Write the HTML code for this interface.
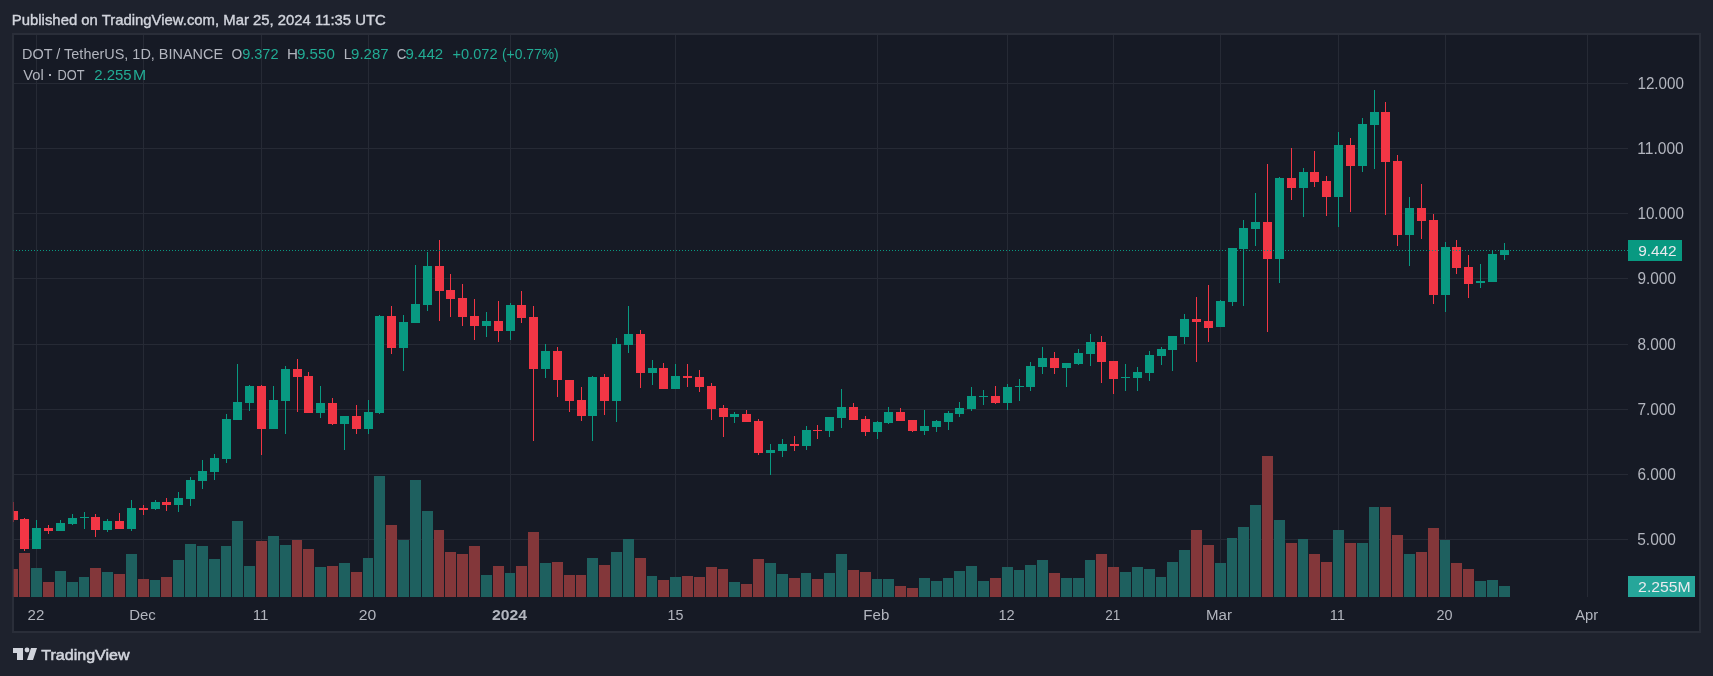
<!DOCTYPE html>
<html><head><meta charset="utf-8"><style>
html,body{margin:0;padding:0;width:1713px;height:676px;overflow:hidden;background:#1e222d;}
</style></head><body>
<svg width="1713" height="676" viewBox="0 0 1713 676" style="position:absolute;left:0;top:0;will-change:transform"><rect x="0" y="0" width="1713" height="676" fill="#1e222d"/><rect x="12" y="33" width="1689" height="600" fill="#2a2e39"/><rect x="14" y="35" width="1685" height="596" fill="#161a25"/><defs><clipPath id="pane"><rect x="13" y="35" width="1615" height="562"/></clipPath></defs><g clip-path="url(#pane)" shape-rendering="crispEdges"><rect x="36" y="35" width="1" height="562" fill="#262a35"/><rect x="143" y="35" width="1" height="562" fill="#262a35"/><rect x="261" y="35" width="1" height="562" fill="#262a35"/><rect x="368" y="35" width="1" height="562" fill="#262a35"/><rect x="510" y="35" width="1" height="562" fill="#262a35"/><rect x="675" y="35" width="1" height="562" fill="#262a35"/><rect x="877" y="35" width="1" height="562" fill="#262a35"/><rect x="1007" y="35" width="1" height="562" fill="#262a35"/><rect x="1113" y="35" width="1" height="562" fill="#262a35"/><rect x="1220" y="35" width="1" height="562" fill="#262a35"/><rect x="1338" y="35" width="1" height="562" fill="#262a35"/><rect x="1445" y="35" width="1" height="562" fill="#262a35"/><rect x="1587" y="35" width="1" height="562" fill="#262a35"/><rect x="14" y="83" width="1614" height="1" fill="#262a35"/><rect x="14" y="148" width="1614" height="1" fill="#262a35"/><rect x="14" y="213" width="1614" height="1" fill="#262a35"/><rect x="14" y="278" width="1614" height="1" fill="#262a35"/><rect x="14" y="344" width="1614" height="1" fill="#262a35"/><rect x="14" y="409" width="1614" height="1" fill="#262a35"/><rect x="14" y="474" width="1614" height="1" fill="#262a35"/><rect x="14" y="539" width="1614" height="1" fill="#262a35"/><rect x="8" y="569" width="10" height="28" fill="#83373a"/><rect x="19" y="553" width="11" height="44" fill="#83373a"/><rect x="31" y="568" width="11" height="29" fill="#1e605f"/><rect x="43" y="582" width="11" height="15" fill="#83373a"/><rect x="55" y="571" width="11" height="26" fill="#1e605f"/><rect x="67" y="582" width="11" height="15" fill="#1e605f"/><rect x="79" y="577" width="10" height="20" fill="#1e605f"/><rect x="90" y="568" width="11" height="29" fill="#83373a"/><rect x="102" y="572" width="11" height="25" fill="#1e605f"/><rect x="114" y="574" width="11" height="23" fill="#83373a"/><rect x="126" y="554" width="11" height="43" fill="#1e605f"/><rect x="138" y="579" width="11" height="18" fill="#83373a"/><rect x="150" y="580" width="10" height="17" fill="#1e605f"/><rect x="161" y="577" width="11" height="20" fill="#83373a"/><rect x="173" y="560" width="11" height="37" fill="#1e605f"/><rect x="185" y="544" width="11" height="53" fill="#1e605f"/><rect x="197" y="546" width="11" height="51" fill="#1e605f"/><rect x="209" y="559" width="11" height="38" fill="#1e605f"/><rect x="221" y="546" width="10" height="51" fill="#1e605f"/><rect x="232" y="521" width="11" height="76" fill="#1e605f"/><rect x="244" y="566" width="11" height="31" fill="#1e605f"/><rect x="256" y="541" width="11" height="56" fill="#83373a"/><rect x="268" y="536" width="11" height="61" fill="#1e605f"/><rect x="280" y="545" width="11" height="52" fill="#1e605f"/><rect x="292" y="540" width="10" height="57" fill="#83373a"/><rect x="303" y="549" width="11" height="48" fill="#83373a"/><rect x="315" y="567" width="11" height="30" fill="#1e605f"/><rect x="327" y="566" width="11" height="31" fill="#83373a"/><rect x="339" y="563" width="11" height="34" fill="#1e605f"/><rect x="351" y="572" width="11" height="25" fill="#83373a"/><rect x="363" y="558" width="10" height="39" fill="#1e605f"/><rect x="374" y="476" width="11" height="121" fill="#1e605f"/><rect x="386" y="525" width="11" height="72" fill="#83373a"/><rect x="398" y="540" width="11" height="57" fill="#1e605f"/><rect x="410" y="480" width="11" height="117" fill="#1e605f"/><rect x="422" y="511" width="11" height="86" fill="#1e605f"/><rect x="434" y="530" width="10" height="67" fill="#83373a"/><rect x="445" y="552" width="11" height="45" fill="#83373a"/><rect x="457" y="554" width="11" height="43" fill="#83373a"/><rect x="469" y="546" width="11" height="51" fill="#83373a"/><rect x="481" y="575" width="11" height="22" fill="#1e605f"/><rect x="493" y="566" width="11" height="31" fill="#83373a"/><rect x="505" y="573" width="10" height="24" fill="#1e605f"/><rect x="516" y="566" width="11" height="31" fill="#83373a"/><rect x="528" y="532" width="11" height="65" fill="#83373a"/><rect x="540" y="563" width="11" height="34" fill="#1e605f"/><rect x="552" y="562" width="11" height="35" fill="#83373a"/><rect x="564" y="575" width="11" height="22" fill="#83373a"/><rect x="576" y="575" width="10" height="22" fill="#83373a"/><rect x="587" y="558" width="11" height="39" fill="#1e605f"/><rect x="599" y="565" width="11" height="32" fill="#83373a"/><rect x="611" y="552" width="11" height="45" fill="#1e605f"/><rect x="623" y="539" width="11" height="58" fill="#1e605f"/><rect x="635" y="558" width="11" height="39" fill="#83373a"/><rect x="647" y="576" width="10" height="21" fill="#1e605f"/><rect x="658" y="580" width="11" height="17" fill="#83373a"/><rect x="670" y="577" width="11" height="20" fill="#1e605f"/><rect x="682" y="576" width="11" height="21" fill="#83373a"/><rect x="694" y="577" width="11" height="20" fill="#83373a"/><rect x="706" y="567" width="11" height="30" fill="#83373a"/><rect x="718" y="569" width="10" height="28" fill="#83373a"/><rect x="729" y="582" width="11" height="15" fill="#1e605f"/><rect x="741" y="584" width="11" height="13" fill="#83373a"/><rect x="753" y="559" width="11" height="38" fill="#83373a"/><rect x="765" y="563" width="11" height="34" fill="#1e605f"/><rect x="777" y="574" width="11" height="23" fill="#1e605f"/><rect x="789" y="578" width="11" height="19" fill="#83373a"/><rect x="801" y="573" width="10" height="24" fill="#1e605f"/><rect x="812" y="579" width="11" height="18" fill="#83373a"/><rect x="824" y="573" width="11" height="24" fill="#1e605f"/><rect x="836" y="554" width="11" height="43" fill="#1e605f"/><rect x="848" y="570" width="11" height="27" fill="#83373a"/><rect x="860" y="572" width="11" height="25" fill="#83373a"/><rect x="872" y="579" width="10" height="18" fill="#1e605f"/><rect x="883" y="579" width="11" height="18" fill="#1e605f"/><rect x="895" y="586" width="11" height="11" fill="#83373a"/><rect x="907" y="588" width="11" height="9" fill="#83373a"/><rect x="919" y="578" width="11" height="19" fill="#1e605f"/><rect x="931" y="581" width="11" height="16" fill="#1e605f"/><rect x="943" y="578" width="10" height="19" fill="#1e605f"/><rect x="954" y="571" width="11" height="26" fill="#1e605f"/><rect x="966" y="566" width="11" height="31" fill="#1e605f"/><rect x="978" y="581" width="11" height="16" fill="#1e605f"/><rect x="990" y="578" width="11" height="19" fill="#83373a"/><rect x="1002" y="567" width="11" height="30" fill="#1e605f"/><rect x="1014" y="570" width="10" height="27" fill="#1e605f"/><rect x="1025" y="565" width="11" height="32" fill="#1e605f"/><rect x="1037" y="560" width="11" height="37" fill="#1e605f"/><rect x="1049" y="573" width="11" height="24" fill="#83373a"/><rect x="1061" y="578" width="11" height="19" fill="#1e605f"/><rect x="1073" y="578" width="11" height="19" fill="#1e605f"/><rect x="1085" y="560" width="10" height="37" fill="#1e605f"/><rect x="1096" y="554" width="11" height="43" fill="#83373a"/><rect x="1108" y="567" width="11" height="30" fill="#83373a"/><rect x="1120" y="572" width="11" height="25" fill="#1e605f"/><rect x="1132" y="567" width="11" height="30" fill="#1e605f"/><rect x="1144" y="569" width="11" height="28" fill="#1e605f"/><rect x="1156" y="577" width="10" height="20" fill="#1e605f"/><rect x="1167" y="562" width="11" height="35" fill="#1e605f"/><rect x="1179" y="550" width="11" height="47" fill="#1e605f"/><rect x="1191" y="530" width="11" height="67" fill="#83373a"/><rect x="1203" y="545" width="11" height="52" fill="#83373a"/><rect x="1215" y="563" width="11" height="34" fill="#1e605f"/><rect x="1227" y="538" width="10" height="59" fill="#1e605f"/><rect x="1238" y="527" width="11" height="70" fill="#1e605f"/><rect x="1250" y="505" width="11" height="92" fill="#1e605f"/><rect x="1262" y="456" width="11" height="141" fill="#83373a"/><rect x="1274" y="520" width="11" height="77" fill="#1e605f"/><rect x="1286" y="543" width="11" height="54" fill="#83373a"/><rect x="1298" y="539" width="10" height="58" fill="#1e605f"/><rect x="1309" y="554" width="11" height="43" fill="#83373a"/><rect x="1321" y="562" width="11" height="35" fill="#83373a"/><rect x="1333" y="530" width="11" height="67" fill="#1e605f"/><rect x="1345" y="543" width="11" height="54" fill="#83373a"/><rect x="1357" y="543" width="11" height="54" fill="#1e605f"/><rect x="1369" y="507" width="10" height="90" fill="#1e605f"/><rect x="1380" y="507" width="11" height="90" fill="#83373a"/><rect x="1392" y="535" width="11" height="62" fill="#83373a"/><rect x="1404" y="554" width="11" height="43" fill="#1e605f"/><rect x="1416" y="552" width="11" height="45" fill="#83373a"/><rect x="1428" y="528" width="11" height="69" fill="#83373a"/><rect x="1440" y="540" width="10" height="57" fill="#1e605f"/><rect x="1451" y="563" width="11" height="34" fill="#83373a"/><rect x="1463" y="569" width="11" height="28" fill="#83373a"/><rect x="1475" y="581" width="11" height="16" fill="#1e605f"/><rect x="1487" y="580" width="11" height="17" fill="#1e605f"/><rect x="1499" y="586" width="11" height="11" fill="#1e605f"/><rect x="13" y="502" width="1" height="20" fill="#f23645"/><rect x="9" y="511" width="9" height="9" fill="#f23645"/><rect x="24" y="518" width="1" height="33" fill="#f23645"/><rect x="20" y="519" width="9" height="30" fill="#f23645"/><rect x="36" y="520" width="1" height="29" fill="#089981"/><rect x="32" y="528" width="9" height="21" fill="#089981"/><rect x="48" y="525" width="1" height="9" fill="#f23645"/><rect x="44" y="528" width="9" height="3" fill="#f23645"/><rect x="60" y="520" width="1" height="11" fill="#089981"/><rect x="56" y="523" width="9" height="8" fill="#089981"/><rect x="72" y="514" width="1" height="11" fill="#089981"/><rect x="68" y="518" width="9" height="6" fill="#089981"/><rect x="84" y="512" width="1" height="17" fill="#089981"/><rect x="80" y="517" width="9" height="1" fill="#089981"/><rect x="95" y="514" width="1" height="23" fill="#f23645"/><rect x="91" y="517" width="9" height="13" fill="#f23645"/><rect x="107" y="519" width="1" height="13" fill="#089981"/><rect x="103" y="521" width="9" height="9" fill="#089981"/><rect x="119" y="513" width="1" height="16" fill="#f23645"/><rect x="115" y="521" width="9" height="8" fill="#f23645"/><rect x="131" y="500" width="1" height="31" fill="#089981"/><rect x="127" y="508" width="9" height="21" fill="#089981"/><rect x="143" y="505" width="1" height="10" fill="#f23645"/><rect x="139" y="508" width="9" height="2" fill="#f23645"/><rect x="155" y="500" width="1" height="10" fill="#089981"/><rect x="151" y="502" width="9" height="7" fill="#089981"/><rect x="166" y="498" width="1" height="13" fill="#f23645"/><rect x="162" y="502" width="9" height="3" fill="#f23645"/><rect x="178" y="492" width="1" height="20" fill="#089981"/><rect x="174" y="498" width="9" height="7" fill="#089981"/><rect x="190" y="477" width="1" height="29" fill="#089981"/><rect x="186" y="480" width="9" height="19" fill="#089981"/><rect x="202" y="460" width="1" height="29" fill="#089981"/><rect x="198" y="471" width="9" height="10" fill="#089981"/><rect x="214" y="454" width="1" height="26" fill="#089981"/><rect x="210" y="458" width="9" height="14" fill="#089981"/><rect x="226" y="414" width="1" height="49" fill="#089981"/><rect x="222" y="419" width="9" height="40" fill="#089981"/><rect x="237" y="364" width="1" height="56" fill="#089981"/><rect x="233" y="402" width="9" height="18" fill="#089981"/><rect x="249" y="385" width="1" height="26" fill="#089981"/><rect x="245" y="386" width="9" height="17" fill="#089981"/><rect x="261" y="385" width="1" height="70" fill="#f23645"/><rect x="257" y="386" width="9" height="43" fill="#f23645"/><rect x="273" y="386" width="1" height="43" fill="#089981"/><rect x="269" y="400" width="9" height="29" fill="#089981"/><rect x="285" y="366" width="1" height="68" fill="#089981"/><rect x="281" y="369" width="9" height="32" fill="#089981"/><rect x="297" y="359" width="1" height="53" fill="#f23645"/><rect x="293" y="369" width="9" height="8" fill="#f23645"/><rect x="308" y="372" width="1" height="41" fill="#f23645"/><rect x="304" y="376" width="9" height="37" fill="#f23645"/><rect x="320" y="386" width="1" height="32" fill="#089981"/><rect x="316" y="403" width="9" height="10" fill="#089981"/><rect x="332" y="398" width="1" height="27" fill="#f23645"/><rect x="328" y="403" width="9" height="21" fill="#f23645"/><rect x="344" y="416" width="1" height="34" fill="#089981"/><rect x="340" y="416" width="9" height="8" fill="#089981"/><rect x="356" y="405" width="1" height="29" fill="#f23645"/><rect x="352" y="416" width="9" height="13" fill="#f23645"/><rect x="368" y="400" width="1" height="34" fill="#089981"/><rect x="364" y="412" width="9" height="17" fill="#089981"/><rect x="379" y="315" width="1" height="99" fill="#089981"/><rect x="375" y="316" width="9" height="97" fill="#089981"/><rect x="391" y="306" width="1" height="48" fill="#f23645"/><rect x="387" y="316" width="9" height="32" fill="#f23645"/><rect x="403" y="315" width="1" height="56" fill="#089981"/><rect x="399" y="322" width="9" height="26" fill="#089981"/><rect x="415" y="265" width="1" height="58" fill="#089981"/><rect x="411" y="304" width="9" height="19" fill="#089981"/><rect x="427" y="252" width="1" height="59" fill="#089981"/><rect x="423" y="266" width="9" height="39" fill="#089981"/><rect x="439" y="240" width="1" height="81" fill="#f23645"/><rect x="435" y="266" width="9" height="25" fill="#f23645"/><rect x="450" y="274" width="1" height="43" fill="#f23645"/><rect x="446" y="290" width="9" height="9" fill="#f23645"/><rect x="462" y="284" width="1" height="42" fill="#f23645"/><rect x="458" y="298" width="9" height="19" fill="#f23645"/><rect x="474" y="299" width="1" height="41" fill="#f23645"/><rect x="470" y="316" width="9" height="10" fill="#f23645"/><rect x="486" y="312" width="1" height="25" fill="#089981"/><rect x="482" y="321" width="9" height="5" fill="#089981"/><rect x="498" y="301" width="1" height="41" fill="#f23645"/><rect x="494" y="321" width="9" height="10" fill="#f23645"/><rect x="510" y="303" width="1" height="37" fill="#089981"/><rect x="506" y="305" width="9" height="26" fill="#089981"/><rect x="521" y="291" width="1" height="32" fill="#f23645"/><rect x="517" y="305" width="9" height="13" fill="#f23645"/><rect x="533" y="306" width="1" height="135" fill="#f23645"/><rect x="529" y="317" width="9" height="52" fill="#f23645"/><rect x="545" y="344" width="1" height="34" fill="#089981"/><rect x="541" y="351" width="9" height="18" fill="#089981"/><rect x="557" y="347" width="1" height="50" fill="#f23645"/><rect x="553" y="351" width="9" height="29" fill="#f23645"/><rect x="569" y="380" width="1" height="32" fill="#f23645"/><rect x="565" y="380" width="9" height="21" fill="#f23645"/><rect x="581" y="387" width="1" height="34" fill="#f23645"/><rect x="577" y="400" width="9" height="16" fill="#f23645"/><rect x="592" y="376" width="1" height="65" fill="#089981"/><rect x="588" y="377" width="9" height="39" fill="#089981"/><rect x="604" y="374" width="1" height="41" fill="#f23645"/><rect x="600" y="377" width="9" height="24" fill="#f23645"/><rect x="616" y="338" width="1" height="84" fill="#089981"/><rect x="612" y="344" width="9" height="57" fill="#089981"/><rect x="628" y="306" width="1" height="47" fill="#089981"/><rect x="624" y="334" width="9" height="11" fill="#089981"/><rect x="640" y="330" width="1" height="58" fill="#f23645"/><rect x="636" y="334" width="9" height="39" fill="#f23645"/><rect x="652" y="360" width="1" height="25" fill="#089981"/><rect x="648" y="368" width="9" height="5" fill="#089981"/><rect x="663" y="363" width="1" height="26" fill="#f23645"/><rect x="659" y="368" width="9" height="21" fill="#f23645"/><rect x="675" y="364" width="1" height="25" fill="#089981"/><rect x="671" y="376" width="9" height="13" fill="#089981"/><rect x="687" y="364" width="1" height="23" fill="#f23645"/><rect x="683" y="376" width="9" height="2" fill="#f23645"/><rect x="699" y="370" width="1" height="22" fill="#f23645"/><rect x="695" y="377" width="9" height="10" fill="#f23645"/><rect x="711" y="383" width="1" height="37" fill="#f23645"/><rect x="707" y="386" width="9" height="23" fill="#f23645"/><rect x="723" y="405" width="1" height="32" fill="#f23645"/><rect x="719" y="408" width="9" height="9" fill="#f23645"/><rect x="734" y="412" width="1" height="11" fill="#089981"/><rect x="730" y="414" width="9" height="3" fill="#089981"/><rect x="746" y="410" width="1" height="12" fill="#f23645"/><rect x="742" y="414" width="9" height="8" fill="#f23645"/><rect x="758" y="419" width="1" height="36" fill="#f23645"/><rect x="754" y="421" width="9" height="32" fill="#f23645"/><rect x="770" y="444" width="1" height="31" fill="#089981"/><rect x="766" y="450" width="9" height="3" fill="#089981"/><rect x="782" y="439" width="1" height="18" fill="#089981"/><rect x="778" y="444" width="9" height="7" fill="#089981"/><rect x="794" y="436" width="1" height="15" fill="#f23645"/><rect x="790" y="444" width="9" height="2" fill="#f23645"/><rect x="806" y="426" width="1" height="24" fill="#089981"/><rect x="802" y="430" width="9" height="16" fill="#089981"/><rect x="817" y="425" width="1" height="14" fill="#f23645"/><rect x="813" y="430" width="9" height="1" fill="#f23645"/><rect x="829" y="417" width="1" height="20" fill="#089981"/><rect x="825" y="417" width="9" height="14" fill="#089981"/><rect x="841" y="389" width="1" height="39" fill="#089981"/><rect x="837" y="407" width="9" height="11" fill="#089981"/><rect x="853" y="403" width="1" height="17" fill="#f23645"/><rect x="849" y="407" width="9" height="13" fill="#f23645"/><rect x="865" y="416" width="1" height="20" fill="#f23645"/><rect x="861" y="419" width="9" height="13" fill="#f23645"/><rect x="877" y="421" width="1" height="18" fill="#089981"/><rect x="873" y="422" width="9" height="10" fill="#089981"/><rect x="888" y="407" width="1" height="17" fill="#089981"/><rect x="884" y="412" width="9" height="11" fill="#089981"/><rect x="900" y="408" width="1" height="13" fill="#f23645"/><rect x="896" y="412" width="9" height="9" fill="#f23645"/><rect x="912" y="420" width="1" height="12" fill="#f23645"/><rect x="908" y="420" width="9" height="11" fill="#f23645"/><rect x="924" y="410" width="1" height="25" fill="#089981"/><rect x="920" y="426" width="9" height="5" fill="#089981"/><rect x="936" y="420" width="1" height="12" fill="#089981"/><rect x="932" y="421" width="9" height="6" fill="#089981"/><rect x="948" y="411" width="1" height="19" fill="#089981"/><rect x="944" y="413" width="9" height="9" fill="#089981"/><rect x="959" y="402" width="1" height="15" fill="#089981"/><rect x="955" y="408" width="9" height="6" fill="#089981"/><rect x="971" y="387" width="1" height="24" fill="#089981"/><rect x="967" y="396" width="9" height="13" fill="#089981"/><rect x="983" y="390" width="1" height="15" fill="#089981"/><rect x="979" y="396" width="9" height="1" fill="#089981"/><rect x="995" y="386" width="1" height="18" fill="#f23645"/><rect x="991" y="396" width="9" height="7" fill="#f23645"/><rect x="1007" y="384" width="1" height="26" fill="#089981"/><rect x="1003" y="387" width="9" height="16" fill="#089981"/><rect x="1019" y="379" width="1" height="22" fill="#089981"/><rect x="1015" y="386" width="9" height="1" fill="#089981"/><rect x="1030" y="362" width="1" height="29" fill="#089981"/><rect x="1026" y="366" width="9" height="21" fill="#089981"/><rect x="1042" y="347" width="1" height="27" fill="#089981"/><rect x="1038" y="358" width="9" height="9" fill="#089981"/><rect x="1054" y="352" width="1" height="22" fill="#f23645"/><rect x="1050" y="358" width="9" height="10" fill="#f23645"/><rect x="1066" y="363" width="1" height="24" fill="#089981"/><rect x="1062" y="363" width="9" height="5" fill="#089981"/><rect x="1078" y="349" width="1" height="16" fill="#089981"/><rect x="1074" y="353" width="9" height="11" fill="#089981"/><rect x="1090" y="334" width="1" height="32" fill="#089981"/><rect x="1086" y="342" width="9" height="12" fill="#089981"/><rect x="1101" y="336" width="1" height="47" fill="#f23645"/><rect x="1097" y="342" width="9" height="20" fill="#f23645"/><rect x="1113" y="361" width="1" height="33" fill="#f23645"/><rect x="1109" y="361" width="9" height="18" fill="#f23645"/><rect x="1125" y="364" width="1" height="27" fill="#089981"/><rect x="1121" y="377" width="9" height="1" fill="#089981"/><rect x="1137" y="367" width="1" height="24" fill="#089981"/><rect x="1133" y="372" width="9" height="6" fill="#089981"/><rect x="1149" y="351" width="1" height="30" fill="#089981"/><rect x="1145" y="355" width="9" height="18" fill="#089981"/><rect x="1161" y="347" width="1" height="18" fill="#089981"/><rect x="1157" y="349" width="9" height="7" fill="#089981"/><rect x="1172" y="336" width="1" height="35" fill="#089981"/><rect x="1168" y="336" width="9" height="14" fill="#089981"/><rect x="1184" y="314" width="1" height="30" fill="#089981"/><rect x="1180" y="319" width="9" height="18" fill="#089981"/><rect x="1196" y="297" width="1" height="65" fill="#f23645"/><rect x="1192" y="319" width="9" height="3" fill="#f23645"/><rect x="1208" y="285" width="1" height="57" fill="#f23645"/><rect x="1204" y="321" width="9" height="7" fill="#f23645"/><rect x="1220" y="300" width="1" height="27" fill="#089981"/><rect x="1216" y="301" width="9" height="26" fill="#089981"/><rect x="1232" y="248" width="1" height="58" fill="#089981"/><rect x="1228" y="248" width="9" height="54" fill="#089981"/><rect x="1243" y="220" width="1" height="86" fill="#089981"/><rect x="1239" y="228" width="9" height="21" fill="#089981"/><rect x="1255" y="193" width="1" height="53" fill="#089981"/><rect x="1251" y="222" width="9" height="7" fill="#089981"/><rect x="1267" y="164" width="1" height="168" fill="#f23645"/><rect x="1263" y="222" width="9" height="37" fill="#f23645"/><rect x="1279" y="177" width="1" height="106" fill="#089981"/><rect x="1275" y="178" width="9" height="81" fill="#089981"/><rect x="1291" y="148" width="1" height="52" fill="#f23645"/><rect x="1287" y="178" width="9" height="10" fill="#f23645"/><rect x="1303" y="168" width="1" height="49" fill="#089981"/><rect x="1299" y="172" width="9" height="16" fill="#089981"/><rect x="1314" y="151" width="1" height="36" fill="#f23645"/><rect x="1310" y="172" width="9" height="10" fill="#f23645"/><rect x="1326" y="176" width="1" height="40" fill="#f23645"/><rect x="1322" y="181" width="9" height="16" fill="#f23645"/><rect x="1338" y="132" width="1" height="95" fill="#089981"/><rect x="1334" y="145" width="9" height="52" fill="#089981"/><rect x="1350" y="138" width="1" height="74" fill="#f23645"/><rect x="1346" y="145" width="9" height="21" fill="#f23645"/><rect x="1362" y="118" width="1" height="54" fill="#089981"/><rect x="1358" y="124" width="9" height="42" fill="#089981"/><rect x="1374" y="90" width="1" height="79" fill="#089981"/><rect x="1370" y="112" width="9" height="13" fill="#089981"/><rect x="1385" y="102" width="1" height="113" fill="#f23645"/><rect x="1381" y="112" width="9" height="50" fill="#f23645"/><rect x="1397" y="155" width="1" height="91" fill="#f23645"/><rect x="1393" y="161" width="9" height="74" fill="#f23645"/><rect x="1409" y="197" width="1" height="69" fill="#089981"/><rect x="1405" y="208" width="9" height="27" fill="#089981"/><rect x="1421" y="184" width="1" height="55" fill="#f23645"/><rect x="1417" y="208" width="9" height="13" fill="#f23645"/><rect x="1433" y="214" width="1" height="90" fill="#f23645"/><rect x="1429" y="220" width="9" height="75" fill="#f23645"/><rect x="1445" y="242" width="1" height="70" fill="#089981"/><rect x="1441" y="247" width="9" height="48" fill="#089981"/><rect x="1456" y="240" width="1" height="34" fill="#f23645"/><rect x="1452" y="247" width="9" height="21" fill="#f23645"/><rect x="1468" y="255" width="1" height="43" fill="#f23645"/><rect x="1464" y="267" width="9" height="17" fill="#f23645"/><rect x="1480" y="264" width="1" height="24" fill="#089981"/><rect x="1476" y="281" width="9" height="2" fill="#089981"/><rect x="1492" y="250" width="1" height="32" fill="#089981"/><rect x="1488" y="254" width="9" height="28" fill="#089981"/><rect x="1504" y="243" width="1" height="17" fill="#089981"/><rect x="1500" y="250" width="9" height="5" fill="#089981"/><line x1="13" y1="250.5" x2="1628" y2="250.5" stroke="#089981" stroke-width="1" stroke-dasharray="1 2"/></g><rect x="13" y="35" width="1" height="562" fill="#2a2e39" opacity="0.6"/><rect x="1628" y="240" width="54" height="21" fill="#089981"/><rect x="1628" y="576" width="67" height="21" fill="#26a69a"/><text x="11.85" y="24.7" font-family='"Liberation Sans", sans-serif' font-size="15" font-weight="normal" fill="#d1d4dc" textLength="374.01" lengthAdjust="spacingAndGlyphs" xml:space="preserve" stroke="#d1d4dc" stroke-width="0.4">Published on TradingView.com, Mar 25, 2024 11:35 UTC</text><text x="22.12" y="59.1" font-family='"Liberation Sans", sans-serif' font-size="15.5" font-weight="normal" fill="#b2b5be" textLength="200.95" lengthAdjust="spacingAndGlyphs" xml:space="preserve" >DOT / TetherUS, 1D, BINANCE</text><text x="231.56" y="59.1" font-family='"Liberation Sans", sans-serif' font-size="15.5" font-weight="normal" fill="#b2b5be" textLength="10.73" lengthAdjust="spacingAndGlyphs" xml:space="preserve" >O</text><text x="242.16" y="59.1" font-family='"Liberation Sans", sans-serif' font-size="15.5" font-weight="normal" fill="#22ab94" textLength="36.33" lengthAdjust="spacingAndGlyphs" xml:space="preserve" >9.372</text><text x="286.96" y="59.1" font-family='"Liberation Sans", sans-serif' font-size="15.5" font-weight="normal" fill="#b2b5be" textLength="10.94" lengthAdjust="spacingAndGlyphs" xml:space="preserve" >H</text><text x="296.95" y="59.1" font-family='"Liberation Sans", sans-serif' font-size="15.5" font-weight="normal" fill="#22ab94" textLength="37.89" lengthAdjust="spacingAndGlyphs" xml:space="preserve" >9.550</text><text x="343.64" y="59.1" font-family='"Liberation Sans", sans-serif' font-size="15.5" font-weight="normal" fill="#b2b5be" textLength="7.98" lengthAdjust="spacingAndGlyphs" xml:space="preserve" >L</text><text x="351.11" y="59.1" font-family='"Liberation Sans", sans-serif' font-size="15.5" font-weight="normal" fill="#22ab94" textLength="37.51" lengthAdjust="spacingAndGlyphs" xml:space="preserve" >9.287</text><text x="396.84" y="59.1" font-family='"Liberation Sans", sans-serif' font-size="15.5" font-weight="normal" fill="#b2b5be" textLength="9.64" lengthAdjust="spacingAndGlyphs" xml:space="preserve" >C</text><text x="405.50" y="59.1" font-family='"Liberation Sans", sans-serif' font-size="15.5" font-weight="normal" fill="#22ab94" textLength="37.64" lengthAdjust="spacingAndGlyphs" xml:space="preserve" >9.442</text><text x="452.45" y="59.1" font-family='"Liberation Sans", sans-serif' font-size="15.5" font-weight="normal" fill="#22ab94" textLength="45.07" lengthAdjust="spacingAndGlyphs" xml:space="preserve" >+0.072</text><text x="501.96" y="59.1" font-family='"Liberation Sans", sans-serif' font-size="15.5" font-weight="normal" fill="#22ab94" textLength="56.79" lengthAdjust="spacingAndGlyphs" xml:space="preserve" >(+0.77%)</text><text x="23.19" y="79.7" font-family='"Liberation Sans", sans-serif' font-size="15.5" font-weight="normal" fill="#b2b5be" textLength="20.49" lengthAdjust="spacingAndGlyphs" xml:space="preserve" >Vol</text><text x="57.45" y="79.7" font-family='"Liberation Sans", sans-serif' font-size="15.5" font-weight="normal" fill="#b2b5be" textLength="27.01" lengthAdjust="spacingAndGlyphs" xml:space="preserve" >DOT</text><text x="94.16" y="79.7" font-family='"Liberation Sans", sans-serif' font-size="15.5" font-weight="normal" fill="#22ab94" textLength="37.47" lengthAdjust="spacingAndGlyphs" xml:space="preserve" >2.255</text><text x="132.96" y="79.7" font-family='"Liberation Sans", sans-serif' font-size="15.5" font-weight="normal" fill="#22ab94" textLength="13.16" lengthAdjust="spacingAndGlyphs" xml:space="preserve" >M</text><text x="1637.44" y="89" font-family='"Liberation Sans", sans-serif' font-size="15.6" font-weight="normal" fill="#b2b5be" textLength="46.51" lengthAdjust="spacingAndGlyphs" xml:space="preserve" >12.000</text><text x="1637.24" y="154" font-family='"Liberation Sans", sans-serif' font-size="15.6" font-weight="normal" fill="#b2b5be" textLength="46.54" lengthAdjust="spacingAndGlyphs" xml:space="preserve" >11.000</text><text x="1637.44" y="219" font-family='"Liberation Sans", sans-serif' font-size="15.6" font-weight="normal" fill="#b2b5be" textLength="46.51" lengthAdjust="spacingAndGlyphs" xml:space="preserve" >10.000</text><text x="1637.44" y="284" font-family='"Liberation Sans", sans-serif' font-size="15.6" font-weight="normal" fill="#b2b5be" textLength="38.51" lengthAdjust="spacingAndGlyphs" xml:space="preserve" >9.000</text><text x="1637.53" y="350" font-family='"Liberation Sans", sans-serif' font-size="15.6" font-weight="normal" fill="#b2b5be" textLength="38.39" lengthAdjust="spacingAndGlyphs" xml:space="preserve" >8.000</text><text x="1637.41" y="415" font-family='"Liberation Sans", sans-serif' font-size="15.6" font-weight="normal" fill="#b2b5be" textLength="38.49" lengthAdjust="spacingAndGlyphs" xml:space="preserve" >7.000</text><text x="1637.38" y="480" font-family='"Liberation Sans", sans-serif' font-size="15.6" font-weight="normal" fill="#b2b5be" textLength="38.51" lengthAdjust="spacingAndGlyphs" xml:space="preserve" >6.000</text><text x="1637.23" y="545" font-family='"Liberation Sans", sans-serif' font-size="15.6" font-weight="normal" fill="#b2b5be" textLength="38.76" lengthAdjust="spacingAndGlyphs" xml:space="preserve" >5.000</text><text x="1638.13" y="256" font-family='"Liberation Sans", sans-serif' font-size="15.4" font-weight="normal" fill="#e8eaee" textLength="38.53" lengthAdjust="spacingAndGlyphs" xml:space="preserve" >9.442</text><text x="1638.12" y="592" font-family='"Liberation Sans", sans-serif' font-size="15.4" font-weight="normal" fill="#e8eaee" textLength="52.65" lengthAdjust="spacingAndGlyphs" xml:space="preserve" >2.255M</text><text x="27.61" y="620" font-family='"Liberation Sans", sans-serif' font-size="15.3" font-weight="normal" fill="#b2b5be" textLength="16.72" lengthAdjust="spacingAndGlyphs" xml:space="preserve" >22</text><text x="129.21" y="620" font-family='"Liberation Sans", sans-serif' font-size="15.3" font-weight="normal" fill="#b2b5be" textLength="26.66" lengthAdjust="spacingAndGlyphs" xml:space="preserve" >Dec</text><text x="252.72" y="620" font-family='"Liberation Sans", sans-serif' font-size="15.3" font-weight="normal" fill="#b2b5be" textLength="15.71" lengthAdjust="spacingAndGlyphs" xml:space="preserve" >11</text><text x="358.88" y="620" font-family='"Liberation Sans", sans-serif' font-size="15.3" font-weight="normal" fill="#b2b5be" textLength="17.48" lengthAdjust="spacingAndGlyphs" xml:space="preserve" >20</text><text x="492.00" y="620" font-family='"Liberation Sans", sans-serif' font-size="15.3" font-weight="bold" fill="#b2b5be" textLength="34.99" lengthAdjust="spacingAndGlyphs" xml:space="preserve" >2024</text><text x="667.47" y="620" font-family='"Liberation Sans", sans-serif' font-size="15.3" font-weight="normal" fill="#b2b5be" textLength="15.90" lengthAdjust="spacingAndGlyphs" xml:space="preserve" >15</text><text x="863.37" y="620" font-family='"Liberation Sans", sans-serif' font-size="15.3" font-weight="normal" fill="#b2b5be" textLength="25.90" lengthAdjust="spacingAndGlyphs" xml:space="preserve" >Feb</text><text x="998.42" y="620" font-family='"Liberation Sans", sans-serif' font-size="15.3" font-weight="normal" fill="#b2b5be" textLength="16.30" lengthAdjust="spacingAndGlyphs" xml:space="preserve" >12</text><text x="1105.16" y="620" font-family='"Liberation Sans", sans-serif' font-size="15.3" font-weight="normal" fill="#b2b5be" textLength="15.06" lengthAdjust="spacingAndGlyphs" xml:space="preserve" >21</text><text x="1206.03" y="620" font-family='"Liberation Sans", sans-serif' font-size="15.3" font-weight="normal" fill="#b2b5be" textLength="25.92" lengthAdjust="spacingAndGlyphs" xml:space="preserve" >Mar</text><text x="1329.74" y="620" font-family='"Liberation Sans", sans-serif' font-size="15.3" font-weight="normal" fill="#b2b5be" textLength="15.25" lengthAdjust="spacingAndGlyphs" xml:space="preserve" >11</text><text x="1436.54" y="620" font-family='"Liberation Sans", sans-serif' font-size="15.3" font-weight="normal" fill="#b2b5be" textLength="16.04" lengthAdjust="spacingAndGlyphs" xml:space="preserve" >20</text><text x="1575.14" y="620" font-family='"Liberation Sans", sans-serif' font-size="15.3" font-weight="normal" fill="#b2b5be" textLength="23.00" lengthAdjust="spacingAndGlyphs" xml:space="preserve" >Apr</text><text x="41.31" y="659.7" font-family='"Liberation Sans", sans-serif' font-size="15.2" font-weight="normal" fill="#d1d4dc" textLength="88.25" lengthAdjust="spacingAndGlyphs" xml:space="preserve" stroke="#d1d4dc" stroke-width="0.55">TradingView</text><rect x="49" y="74" width="2" height="2" fill="#b2b5be"/><g fill="#d1d4dc"><path d="M13 648 H23 V660 H17 V653 H13 Z"/><circle cx="27" cy="650" r="2.4"/><path d="M31 648 H37 L33 660 H27 Z"/></g></svg>
</body></html>
